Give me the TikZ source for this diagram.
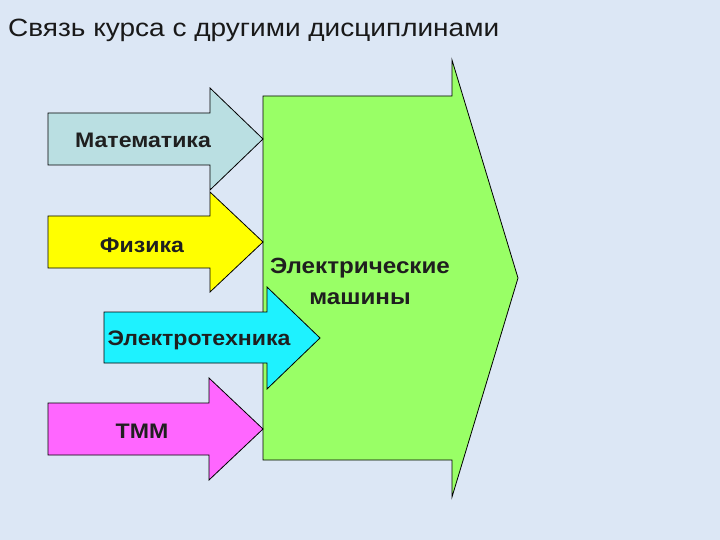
\documentclass[tikz,border=0pt]{standalone}
\usepackage{fontspec}
\setmainfont{Liberation Sans}
\newfontfamily\widefont[FakeStretch=1.1]{Liberation Sans}
\newfontfamily\titlefont[FakeStretch=1.12]{Liberation Sans}
\definecolor{bg}{HTML}{DCE7F5}
\definecolor{mathc}{HTML}{BADFE2}
\definecolor{physc}{HTML}{FFFF00}
\definecolor{elc}{HTML}{1EF2FF}
\definecolor{tmmc}{HTML}{FF66FF}
\definecolor{greenc}{HTML}{99FF66}
\begin{document}
\begin{tikzpicture}[x=1pt,y=-1pt,
  arrowshape/.style={draw=black,line width=0.8pt,line join=miter},
  lbl/.style={font=\widefont\bfseries\fontsize{21}{24}\selectfont,text=black!88,inner sep=0pt}]
\fill[bg] (0,0) rectangle (720,540);
\useasboundingbox (0,0) rectangle (720,540);
\node[anchor=base west,inner sep=0pt,font=\titlefont\fontsize{25}{28}\selectfont,text=black!90] (title) at (8,37) {Связь курса с другими дисциплинами};
% big green arrow
\draw[arrowshape,fill=greenc] (263,96) -- (452,96) -- (452,60) -- (518,278) -- (452,497) -- (452,460) -- (263,460) -- cycle;
% Математика
\draw[arrowshape,fill=mathc] (48,113) -- (210,113) -- (210,88) -- (263,139) -- (210,190) -- (210,165) -- (48,165) -- cycle;
% Физика
\draw[arrowshape,fill=physc] (48,216) -- (210,216) -- (210,192) -- (263,242) -- (210,292) -- (210,268) -- (48,268) -- cycle;
% Электротехника
\draw[arrowshape,fill=elc] (104,312) -- (267,312) -- (267,287) -- (320,338) -- (267,389) -- (267,363) -- (104,363) -- cycle;
% ТММ
\draw[arrowshape,fill=tmmc] (48,403) -- (209,403) -- (209,378) -- (263,429) -- (209,480) -- (209,455) -- (48,455) -- cycle;
\node[lbl] (math) at (143,140) {Математика};
\node[lbl] (phys) at (142,245) {Физика};
\node[lbl] (el) at (199,340) {Электротехника};
\node[lbl] (tmm) at (142,431) {ТММ};
\node[lbl,align=center,font=\widefont\bfseries\fontsize{22}{31}\selectfont] (em) at (360,281) {Электрические\\машины};
\end{tikzpicture}
\end{document}
